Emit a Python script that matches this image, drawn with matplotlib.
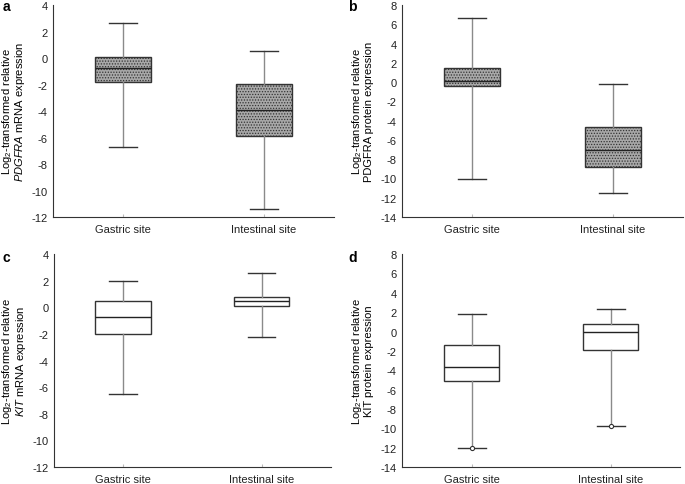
import matplotlib
matplotlib.use("Agg")
import matplotlib.pyplot as plt

plt.rcParams["font.family"] = ["Liberation Sans", "DejaVu Sans"]
plt.rcParams["font.size"] = 8
plt.rcParams["axes.unicode_minus"] = False
plt.rcParams["mathtext.fontset"] = "custom"
plt.rcParams["mathtext.rm"] = "Liberation Sans"
plt.rcParams["mathtext.it"] = "Liberation Sans:italic"
plt.rcParams["hatch.color"] = "#4a4a4a"
plt.rcParams["hatch.linewidth"] = 0.6

categories = ["Gastric site", "Intestinal site"]

# per panel: whisker low, q1, median, q3, whisker high  (gastric, intestinal)
a_low = [-6.75, -11.4]
a_q1 = [-1.8, -5.85]
a_med = [-0.75, -3.95]
a_q3 = [0.1, -1.95]
a_high = [2.65, 0.55]

b_low = [-10.1, -11.55]
b_q1 = [-0.4, -8.8]
b_med = [0.1, -7.0]
b_q3 = [1.45, -4.65]
b_high = [6.7, -0.15]

c_low = [-6.5, -2.2]
c_q1 = [-2.0, 0.1]
c_med = [-0.7, 0.5]
c_q3 = [0.45, 0.75]
c_high = [1.95, 2.55]

d_low = [-12.0, -9.75]
d_q1 = [-5.15, -1.95]
d_med = [-3.65, 0.0]
d_q3 = [-1.4, 0.75]
d_high = [1.8, 2.35]
d_points = [-12.0, -9.75]

ylabels = [
    "Log$_2$-transformed relative\n$\\mathit{PDGFRA}$ mRNA expression",
    "Log$_2$-transformed relative\nPDGFRA protein expression",
    "Log$_2$-transformed relative\n$\\mathit{KIT}$ mRNA expression",
    "Log$_2$-transformed relative\nKIT protein expression",
]

fig = plt.figure(figsize=(6.85, 4.85), dpi=100)
positions = [
    [0.0774, 0.5505, 0.410, 0.4371],
    [0.587, 0.5505, 0.410, 0.4371],
    [0.0788, 0.035, 0.404, 0.439],
    [0.587, 0.035, 0.406, 0.439],
]
label_offset = [-26, -28, -26, -28]
tag_xy = [(0.004, 0.986), (0.508, 0.986), (0.004, 0.468), (0.508, 0.468)]
panels = [
    ("a", a_low, a_q1, a_med, a_q3, a_high, (-12, 4), True),
    ("b", b_low, b_q1, b_med, b_q3, b_high, (-14, 8), True),
    ("c", c_low, c_q1, c_med, c_q3, c_high, (-12, 4), False),
    ("d", d_low, d_q1, d_med, d_q3, d_high, (-14, 8), False),
]

for i, (tag, low, q1, med, q3, high, ylim, shaded) in enumerate(panels):
    ax = fig.add_axes(positions[i])
    stats = [dict(whislo=low[k], q1=q1[k], med=med[k], q3=q3[k], whishi=high[k], label=categories[k])
             for k in range(2)]
    bp = ax.bxp(stats, positions=[1, 2], widths=0.4, showfliers=False, patch_artist=True,
                boxprops=dict(edgecolor="#333333", linewidth=1.0),
                medianprops=dict(color="#222222", linewidth=1.0),
                whiskerprops=dict(color="#8a8a8a", linewidth=1.0),
                capprops=dict(color="#333333", linewidth=1.0),
                capwidths=0.2)
    for box in bp["boxes"]:
        if shaded:
            box.set_facecolor("#a8a8a8")
            box.set_hatch("......")
        else:
            box.set_facecolor("white")
    if tag == "d":
        ax.plot([1, 2], d_points, "o", ms=3, mfc="white", mec="#333333", mew=0.8)

    ax.set_xlim(0.5, 2.5)
    ax.set_ylim(*ylim)
    ax.set_yticks(range(ylim[0], ylim[1] + 1, 2))
    ax.spines["top"].set_visible(False)
    ax.spines["right"].set_visible(False)
    ax.spines["left"].set_color("#333333")
    ax.spines["bottom"].set_color("#333333")
    ax.tick_params(axis="y", length=0, pad=4, colors="#222222")
    ax.tick_params(axis="x", direction="in", length=2, pad=5, colors="#222222", color="#bbbbbb")
    ax.set_ylabel(ylabels[i], fontsize=8, linespacing=0.95)
    ax.yaxis.set_label_coords(label_offset[i] / (positions[i][2] * 685), 0.5)
    fig.text(tag_xy[i][0], tag_xy[i][1], tag, fontsize=10, fontweight="bold", va="center", ha="left")

fig.savefig("out.png", dpi=100)
